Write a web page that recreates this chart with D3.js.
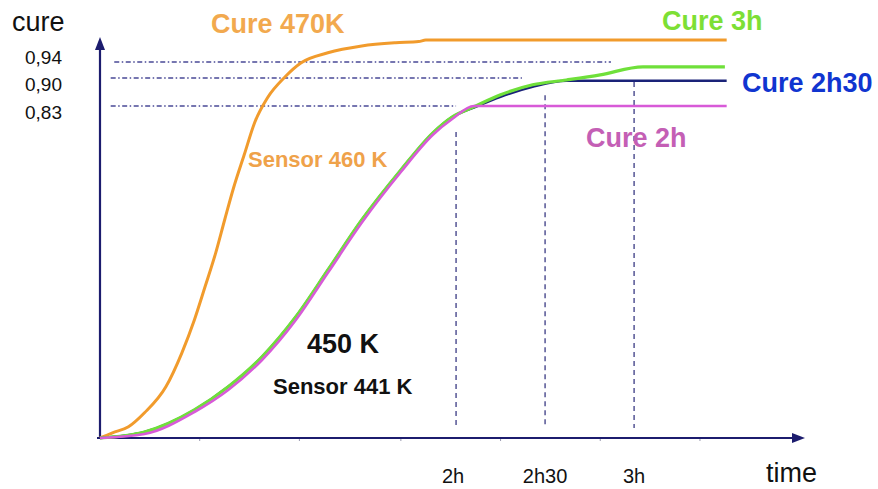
<!DOCTYPE html>
<html>
<head>
<meta charset="utf-8">
<script src="https://cdn.jsdelivr.net/npm/d3@7"></script>
<style>
  body { margin: 0; background: #fff; }
  svg text { font-family: "Liberation Sans", Arial, sans-serif; }
</style>
</head>
<body>
<div id="chart"></div>
<script>
// time in hours, cure degree 0..1
var cure470 = [[0, 0], [0.07, 0.013], [0.16, 0.028], [0.25, 0.063], [0.37, 0.128], [0.46, 0.213],
    [0.53, 0.295], [0.59, 0.378], [0.65, 0.463], [0.70, 0.545], [0.75, 0.625], [0.81, 0.708],
    [0.87, 0.79], [0.94, 0.85], [1.04, 0.903], [1.13, 0.938], [1.28, 0.963], [1.47, 0.98],
    [1.66, 0.988], [1.79, 0.991], [1.83, 0.995], [3.52, 0.995]];

var cure3h = [[0, 0], [0.25, 0.015], [0.53, 0.07], [0.72, 0.128], [0.91, 0.203], [1.10, 0.303],
    [1.28, 0.42], [1.47, 0.545], [1.69, 0.67], [1.87, 0.763], [1.98, 0.803], [2.10, 0.828],
    [2.25, 0.858], [2.43, 0.883], [2.62, 0.895], [2.81, 0.908], [3.05, 0.928], [3.51, 0.928]];

var cure2h30 = [[0, 0], [0.25, 0.015], [0.53, 0.07], [0.72, 0.128], [0.91, 0.203], [1.10, 0.303],
    [1.28, 0.42], [1.47, 0.545], [1.69, 0.67], [1.87, 0.763], [1.98, 0.803], [2.10, 0.826],
    [2.25, 0.853], [2.43, 0.878], [2.62, 0.893], [3.52, 0.893]];

var cure2h = [[0, 0], [0.25, 0.01], [0.53, 0.065], [0.72, 0.12], [0.91, 0.195], [1.10, 0.295],
    [1.28, 0.413], [1.47, 0.538], [1.69, 0.665], [1.87, 0.758], [1.98, 0.798], [2.10, 0.83],
    [3.52, 0.83]];

// reference levels: value, label, start / end time of dash-dot line
var levelValues = [0.94, 0.90, 0.83];
var levelLabels = ['0,94', '0,90', '0,83'];
var levelStart = [0.08, 0.06, 0.06];
var levelEnd = [2.87, 2.37, 2.0];

// time marks: value, label, top of the dashed line (cure)
var timeValues = [2, 2.5, 3];
var timeLabels = ['2h', '2h30', '3h'];
var timeTop = [0.765, 0.857, 0.89];
var minorTicks = [0.56, 1.12, 1.69, 2.25, 2.81, 3.37];

var width = 878, height = 489;

var svg = d3.select('#chart').append('svg')
    .attr('width', width)
    .attr('height', height);

var x = d3.scaleLinear().domain([0, 3.96]).range([100, 805]);
var y = d3.scaleLinear().domain([0, 1]).range([438, 38]);

var navy = '#1c1c6e';

// dash-dot levels
svg.selectAll('.level')
    .data(levelValues)
    .enter()
    .append('line')
    .attr('x1', function(d, i) { return x(levelStart[i]); })
    .attr('x2', function(d, i) { return x(levelEnd[i]); })
    .attr('y1', function(d) { return y(d); })
    .attr('y2', function(d) { return y(d); })
    .attr('stroke', '#4a4a96')
    .attr('stroke-width', 1.3)
    .attr('stroke-dasharray', '5,2.5,1.5,2.5');

// dashed time lines
svg.selectAll('.tline')
    .data(timeValues)
    .enter()
    .append('line')
    .attr('x1', function(d) { return x(d); })
    .attr('x2', function(d) { return x(d); })
    .attr('y1', function(d, i) { return y(timeTop[i]); })
    .attr('y2', y(0.025))
    .attr('stroke', '#3a3a84')
    .attr('stroke-width', 1.3)
    .attr('stroke-dasharray', '5,4');

// axes
svg.selectAll('.minor')
    .data(minorTicks)
    .enter()
    .append('line')
    .attr('x1', function(d) { return x(d); })
    .attr('x2', function(d) { return x(d); })
    .attr('y1', y(0))
    .attr('y2', y(0) + 3)
    .attr('stroke', '#9a9ab0')
    .attr('stroke-width', 1);

svg.append('line')
    .attr('x1', x(0) - 3).attr('y1', y(0))
    .attr('x2', x(3.9)).attr('y2', y(0))
    .attr('stroke', navy).attr('stroke-width', 2.2);
svg.append('path')
    .attr('d', 'M' + x(3.96) + ',' + y(0) + 'l-13,-5l0,10z')
    .attr('fill', navy);

svg.append('line')
    .attr('x1', x(0)).attr('y1', y(0) + 1)
    .attr('x2', x(0)).attr('y2', y(0.985))
    .attr('stroke', navy).attr('stroke-width', 2.2);
svg.append('path')
    .attr('d', 'M' + x(0) + ',' + (y(1) - 1) + 'l-5,13l10,0z')
    .attr('fill', navy);

// curves (blue under green, pink on top)
var line = d3.line()
    .x(function(d) { return x(d[0]); })
    .y(function(d) { return y(d[1]); })
    .curve(d3.curveMonotoneX);

var series = [
    { data: cure470, color: '#f19b2c', w: 3 },
    { data: cure2h30, color: '#1a2378', w: 2.4 },
    { data: cure3h, color: '#6fe03a', w: 3.2 },
    { data: cure2h, color: '#d85ad8', w: 2.6 }
];

svg.selectAll('.curve')
    .data(series)
    .enter()
    .append('path')
    .attr('d', function(d) { return line(d.data); })
    .attr('fill', 'none')
    .attr('stroke', function(d) { return d.color; })
    .attr('stroke-width', function(d) { return d.w; })
    .attr('stroke-linejoin', 'round');

// tick labels
svg.selectAll('.ylab')
    .data(levelLabels)
    .enter()
    .append('text')
    .text(function(d) { return d; })
    .attr('x', 62)
    .attr('y', function(d, i) { return y(levelValues[0]) + 1.5 + i * 27.5; })
    .attr('text-anchor', 'end')
    .attr('font-size', 19)
    .attr('fill', '#111');

svg.selectAll('.xlab')
    .data(timeLabels)
    .enter()
    .append('text')
    .text(function(d) { return d; })
    .attr('x', function(d, i) { return x(timeValues[i]) - (i === 0 ? 3 : 0); })
    .attr('y', 483)
    .attr('text-anchor', 'middle')
    .attr('font-size', 20)
    .attr('fill', '#111');

svg.append('text').text('cure')
    .attr('x', 12).attr('y', 31)
    .attr('font-size', 27).attr('fill', '#111');
svg.append('text').text('time')
    .attr('x', 766).attr('y', 482)
    .attr('font-size', 27).attr('fill', '#111');

// annotations
var notes = [
    { t: 'Cure 470K', x: 211, y: 33, s: 27, c: '#f2a94e' },
    { t: 'Cure 3h', x: 662, y: 30, s: 27, c: '#7ddf35' },
    { t: 'Cure 2h30', x: 742, y: 92, s: 27, c: '#1035d0' },
    { t: 'Cure 2h', x: 586, y: 147, s: 27, c: '#c45fb5' },
    { t: 'Sensor 460 K', x: 248, y: 167, s: 22, c: '#efa24a' },
    { t: '450 K', x: 307, y: 353, s: 27, c: '#111' },
    { t: 'Sensor 441 K', x: 273, y: 394, s: 22, c: '#111' }
];

svg.selectAll('.note')
    .data(notes)
    .enter()
    .append('text')
    .text(function(d) { return d.t; })
    .attr('x', function(d) { return d.x; })
    .attr('y', function(d) { return d.y; })
    .attr('font-size', function(d) { return d.s; })
    .attr('font-weight', 'bold')
    .attr('fill', function(d) { return d.c; });
</script>
</body>
</html>
